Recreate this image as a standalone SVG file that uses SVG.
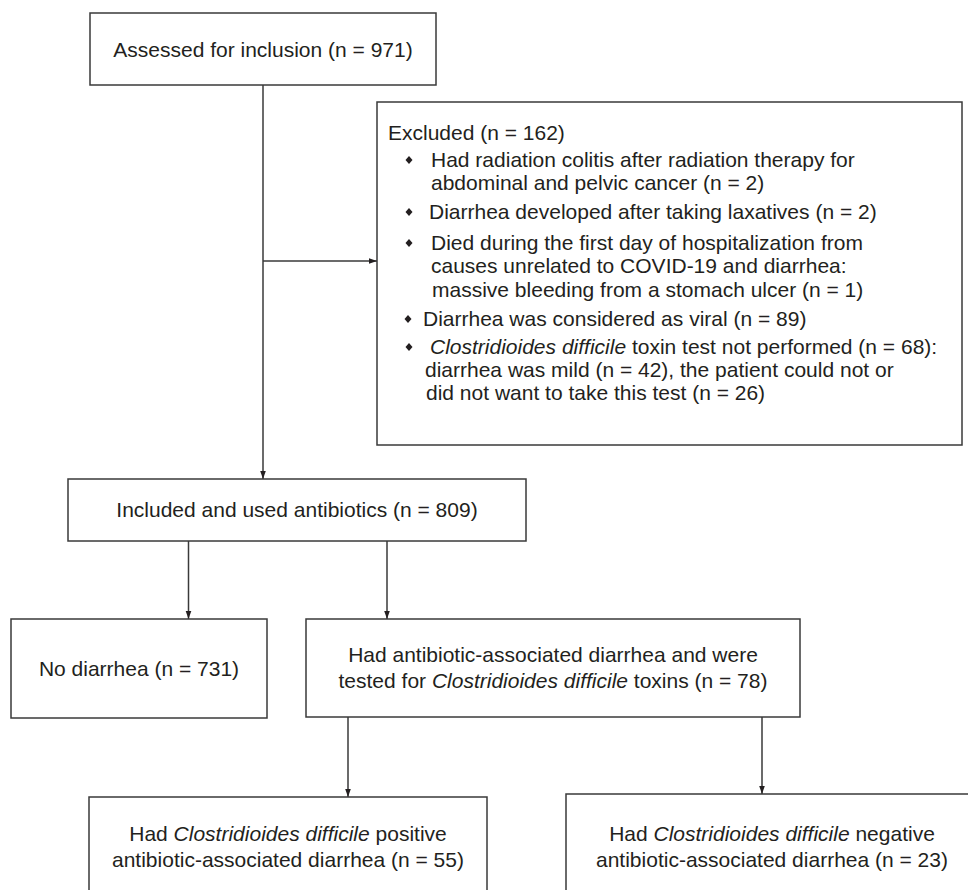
<svg xmlns="http://www.w3.org/2000/svg" width="968" height="890" viewBox="0 0 968 890">
<style>
.box{fill:#fff;stroke:#3a3a3a;stroke-width:1.5}
.t{font-family:"Liberation Sans",Arial,sans-serif;font-size:21px;fill:#231f20}
.c{text-anchor:middle}
.i{font-style:italic}
.ln{fill:none;stroke:#3a3a3a;stroke-width:1.5}
.bul{fill:#231f20}
</style>
<defs>
<marker id="ar" markerUnits="userSpaceOnUse" markerWidth="8" markerHeight="11" refX="10" refY="3.5" orient="auto" viewBox="0 0 10 7">
<path d="M0,0 L10,3.5 L0,7 Z" fill="#231f20"/>
</marker>
<path id="dm" d="M0,-4 L3.5,0 L0,4 L-3.5,0 Z"/>
</defs>
<rect width="968" height="890" fill="#fff"/>
<g id="connectors">
<path class="ln" d="M263,85 V479" marker-end="url(#ar)"/>
<path class="ln" d="M263,261 H377" marker-end="url(#ar)"/>
<path class="ln" d="M188.5,541 V619" marker-end="url(#ar)"/>
<path class="ln" d="M387,541 V619" marker-end="url(#ar)"/>
<path class="ln" d="M348,717 V797" marker-end="url(#ar)"/>
<path class="ln" d="M762,717 V794" marker-end="url(#ar)"/>
</g>
<g id="assessed">
<rect class="box" x="90" y="13" width="346" height="72"/>
<text class="t c" x="263" y="57">Assessed for inclusion (n = 971)</text>
</g>
<g id="excluded">
<rect class="box" x="377" y="102" width="585" height="343"/>
<text class="t" x="388" y="140">Excluded (n = 162)</text>
<use href="#dm" class="bul" x="409" y="160"/>
<text class="t" x="431" y="167">Had radiation colitis after radiation therapy for</text>
<text class="t" x="431" y="190">abdominal and pelvic cancer (n = 2)</text>
<use href="#dm" class="bul" x="409" y="212"/>
<text class="t" x="429" y="219">Diarrhea developed after taking laxatives (n = 2)</text>
<use href="#dm" class="bul" x="409" y="243"/>
<text class="t" x="431" y="250">Died during the first day of hospitalization from</text>
<text class="t" x="431" y="273">causes unrelated to COVID-19 and diarrhea:</text>
<text class="t" x="432" y="297">massive bleeding from a stomach ulcer (n = 1)</text>
<use href="#dm" class="bul" x="408" y="319"/>
<text class="t" x="423" y="326">Diarrhea was considered as viral (n = 89)</text>
<use href="#dm" class="bul" x="409" y="347"/>
<text class="t" x="430" y="354"><tspan class="i">Clostridioides difficile</tspan> toxin test not performed (n = 68):</text>
<text class="t" x="425" y="377">diarrhea was mild (n = 42), the patient could not or</text>
<text class="t" x="426" y="400">did not want to take this test (n = 26)</text>
</g>
<g id="included">
<rect class="box" x="68" y="479" width="458" height="62"/>
<text class="t c" x="297" y="517">Included and used antibiotics (n = 809)</text>
</g>
<g id="nodiarrhea">
<rect class="box" x="11" y="619" width="256" height="99"/>
<text class="t c" x="139" y="676">No diarrhea (n = 731)</text>
</g>
<g id="aad">
<rect class="box" x="306" y="619" width="494" height="98"/>
<text class="t c" x="553" y="662">Had antibiotic-associated diarrhea and were</text>
<text class="t c" x="553" y="688">tested for <tspan class="i">Clostridioides difficile</tspan> toxins (n = 78)</text>
</g>
<g id="positive">
<rect class="box" x="89" y="797" width="398" height="110"/>
<text class="t c" x="288" y="841">Had <tspan class="i">Clostridioides difficile</tspan> positive</text>
<text class="t c" x="288" y="867">antibiotic-associated diarrhea (n = 55)</text>
</g>
<g id="negative">
<rect class="box" x="566" y="794" width="420" height="110"/>
<text class="t c" x="772" y="841">Had <tspan class="i">Clostridioides difficile</tspan> negative</text>
<text class="t c" x="772" y="867">antibiotic-associated diarrhea (n = 23)</text>
</g>
</svg>
